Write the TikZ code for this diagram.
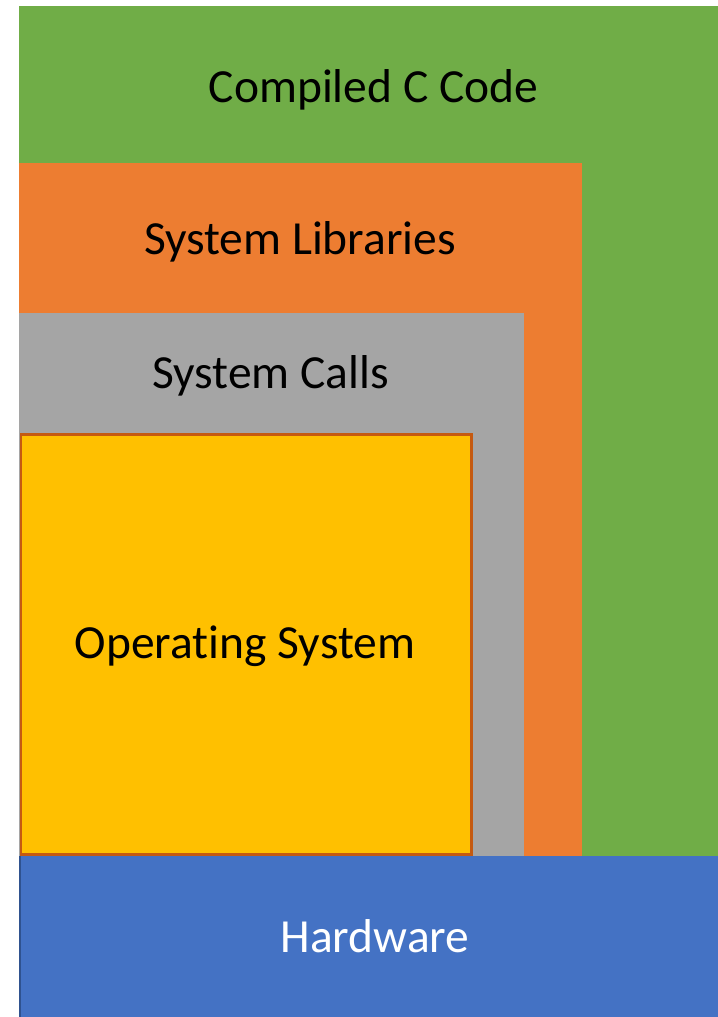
\documentclass[tikz,border=0pt]{standalone}
\usepackage{fontspec}
\setmainfont[Ligatures=NoCommon]{Carlito}
\definecolor{cgreen}{HTML}{70AD47}
\definecolor{corange}{HTML}{ED7D31}
\definecolor{cgray}{HTML}{A5A5A5}
\definecolor{cyellow}{HTML}{FFC000}
\definecolor{cyborder}{HTML}{C55A11}
\definecolor{cblue}{HTML}{4472C4}
\definecolor{cbborder}{HTML}{2F528F}
\begin{document}
\begin{tikzpicture}[x=1bp,y=-1bp,
  lbl/.style={anchor=base,inner sep=0pt,font=\fontsize{47.5bp}{57bp}\selectfont}]
\useasboundingbox (0,0) rectangle (718,1017);
\fill[white] (0,0) rectangle (718,1017);
\fill[cgreen] (19,6) rectangle (718,857);
\fill[corange] (19,163) rectangle (582,857);
\fill[cgray] (19,313) rectangle (524,857);
\filldraw[fill=cyellow,draw=cyborder,line width=2.7bp] (21,434.7) rectangle (471.3,854.7);
\fill[cblue] (19,856) rectangle (718,1017);
\draw[cbborder,line width=2bp] (20,856) -- (20,1017);
\node[lbl] (ccode) at (373.5,102) {Compiled C Code};
\node[lbl] (slib) at (300,254) {System Libraries};
\node[lbl] (scall) at (270.5,388) {System Calls};
\node[lbl] (os) at (245,658) {Operating System};
\node[lbl,text=white] (hw) at (375,952) {Hardware};
\end{tikzpicture}
\end{document}
